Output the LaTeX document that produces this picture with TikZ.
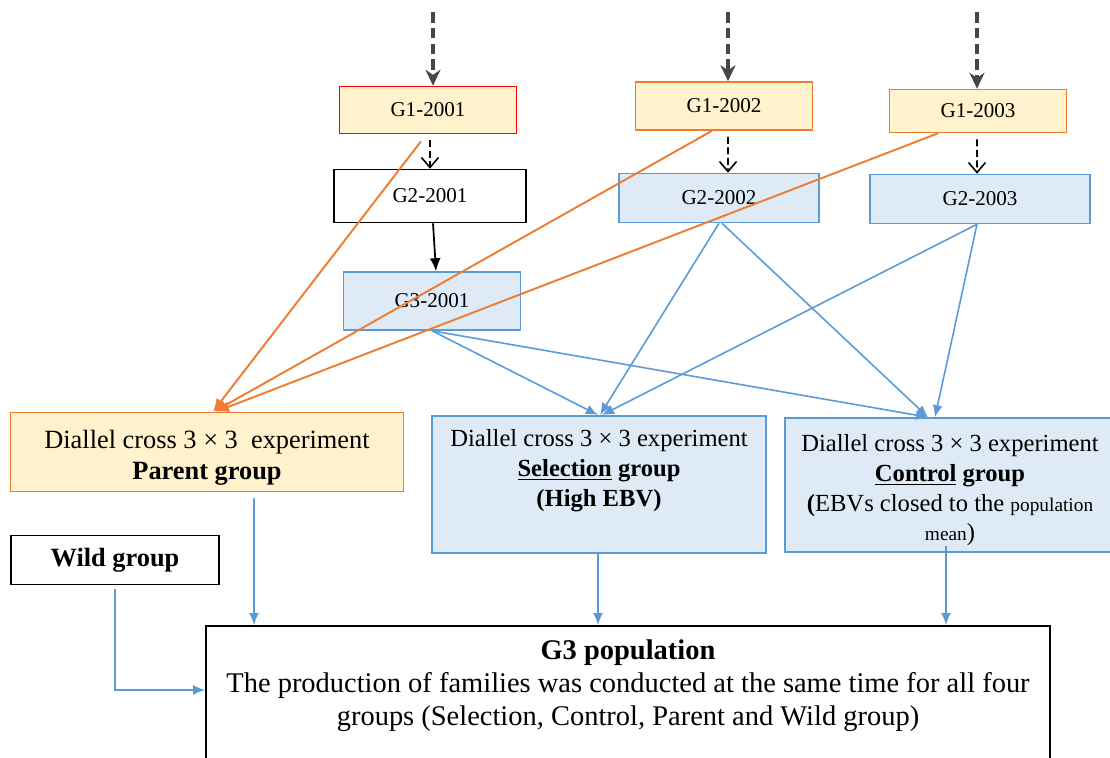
\documentclass[tikz,border=0pt]{standalone}
\usepackage{fontspec}
\setmainfont{Liberation Serif}
\usepackage{xcolor}
\usetikzlibrary{arrows.meta,positioning}
\definecolor{orline}{HTML}{ED7D31}
\definecolor{orfill}{HTML}{FFF2CC}
\definecolor{blline}{HTML}{5B9BD5}
\definecolor{blfill}{HTML}{DEEBF7}

\begin{document}
\begin{tikzpicture}[
  x=0.2mm, y=-0.2mm,
  font=\fontsize{12}{14}\selectfont,
  feed/.style={-{Stealth[length=3.2mm,width=3mm]}, line width=1.8pt, draw=black!72, dash pattern=on 6pt off 3pt},
  pass/.style={-{Straight Barb[length=2mm,width=3.4mm]}, line width=0.9pt, dash pattern=on 4pt off 2pt, shorten <=1.2mm},
  gen/.style={-{Latex[length=2.6mm,width=2.2mm]}, line width=1pt},
  flow/.style={-{Latex[length=2.4mm,width=2mm]}, line width=0.9pt, draw=blline},
  orflow/.style={-{Latex[length=2.6mm,width=2.2mm]}, line width=1.1pt, draw=orline},
  founder/.style={
    draw=orline,
    fill=orfill,
    line width=0.9pt,
    minimum width=35.4mm,
    minimum height=9.4mm,
    align=center
  },
  bluebox/.style={
    draw=blline,
    fill=blfill,
    line width=0.9pt,
    align=center
  },
  plainbox/.style={
    draw=black,
    line width=0.9pt,
    align=center
  },
  bigtext/.style={font=\fontsize{15}{18}\selectfont}
]

\useasboundingbox (0,0) rectangle (1110,757);

% first generation
\node[founder, draw=red] (g1a) at (428,110) {G1-2001};
\node[founder, minimum height=9.6mm] (g1b) at (724,106) {G1-2002};
\node[founder, minimum height=8.6mm] (g1c) at (978,111) {G1-2003};

% second and third generation
\node[plainbox, minimum width=38.4mm, minimum height=10.6mm] (g2a) at (430,196) {G2-2001};
\node[bluebox, minimum width=40mm, minimum height=9.8mm] (g2b) at (719,198) {G2-2002};
\node[bluebox, minimum width=44mm, minimum height=9.8mm] (g2c) at (980,199) {G2-2003};
\node[bluebox, minimum width=35.4mm, minimum height=11.6mm] (g3a) at (432,301) {G3-2001};

% diallel groups
\node[founder, bigtext, minimum width=78.6mm, minimum height=14.8mm] (parent) at (207,452)
  {\rule{0pt}{6mm}Diallel cross 3 × 3\ \ experiment\\\textbf{Parent group}};
\node[bluebox, font=\fontsize{14}{17}\selectfont, minimum width=66.8mm, minimum height=27.4mm,
  inner sep=1mm, anchor=north] (sel) at (599,415)
  {\parbox[c][25mm][t]{64mm}{\centering\vspace*{1.6mm}Diallel cross 3 × 3 experiment\\
   \textbf{\underline{Selection} group}\\\textbf{(High EBV)}}};
\node[bluebox, font=\fontsize{14}{17}\selectfont, minimum width=66mm, minimum height=26.6mm] (ctl) at (950,485)
  {\rule{0pt}{5.5mm}Diallel cross 3 × 3 experiment\\\textbf{\underline{Control} group}\\
   \textbf{(}EBVs closed to the {\fontsize{11}{13}\selectfont population}\\{\fontsize{11}{13}\selectfont mean})};
\node[plainbox, font=\fontsize{15}{18}\selectfont\bfseries, minimum width=41.6mm, minimum height=9.8mm] (wild) at (115,560) {Wild group};

% G3 population
\node[plainbox, font=\fontsize{16.2}{18.8}\selectfont, minimum width=168.8mm, inner sep=1.5mm, anchor=north] (pop) at (628,625)
  {\parbox[c][36mm][t]{165mm}{\centering\vspace*{1.3mm}\textbf{G3 population}\\
   The production of families was conducted at the same time for all four\\
   groups (Selection, Control, Parent and Wild group)}};

% incoming
\coordinate (in1) at (433,12);
\coordinate (in2) at (728,12);
\coordinate (in3) at (977,12);
\draw[feed] (in1) -- (in1 |- g1a.north);
\draw[feed] (in2) -- (in2 |- g1b.north);
\draw[feed] (in3) -- (in3 |- g1c.north);

\draw[pass] ([xshift=0.4mm]g1a.south) -- (g2a.north);
\draw[pass] ([xshift=0.8mm]g1b.south) -- ([xshift=1.8mm]g2b.north);
\draw[pass] ([xshift=-0.2mm]g1c.south) -- ([xshift=-0.6mm]g2c.north);
\draw[gen] ([xshift=0.6mm]g2a.south) -- ([xshift=0.8mm]g3a.north);

% parents of the parent group
\draw[orflow] ([xshift=-1.4mm,yshift=-1.4mm]g1a.south) -- ([xshift=1.2mm]parent.north);
\draw[orflow] ([xshift=-2.4mm]g1b.south) -- ([xshift=1.4mm]parent.north);
\draw[orflow] ([xshift=-8mm]g1c.south) -- ([xshift=1.8mm]parent.north);

% selection and control
\draw[flow] (g3a.south) -- ([xshift=-0.2mm]sel.north);
\draw[flow] (g3a.south) -- ([xshift=-4.4mm]ctl.north);
\draw[flow] (g2b.south) -- ([xshift=0.2mm]sel.north);
\draw[flow] ([xshift=0.6mm]g2b.south) -- ([xshift=-4.4mm]ctl.north);
\draw[flow] ([xshift=-0.6mm]g2c.south) -- ([xshift=0.6mm]sel.north);
\draw[flow] ([xshift=-0.6mm]g2c.south) -- ([xshift=-3mm]ctl.north);

% into G3
\draw[flow] ([xshift=9.4mm,yshift=-1.2mm]parent.south) -- ([xshift=-74.8mm]pop.north);
\draw[flow] ([xshift=-0.2mm]sel.south) -- ([xshift=-6mm]pop.north);
\draw[flow] ([xshift=-0.8mm,yshift=1.4mm]ctl.south) -- ([xshift=63.6mm]pop.north);
\draw[flow] ([yshift=-0.8mm]wild.south) |- ([yshift=-13mm]pop.north west);

\end{tikzpicture}
\end{document}
